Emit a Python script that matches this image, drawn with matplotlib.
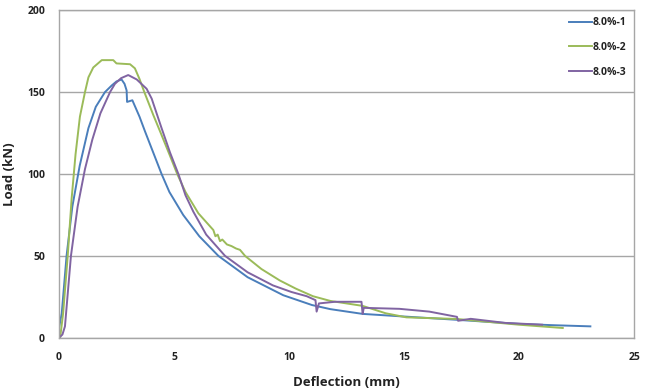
import numpy as np
import matplotlib.pyplot as plt

plt.close('all')

# 8.0%-1 (blue)
x1 = [0, 0.12, 0.33, 0.58, 0.9, 1.28, 1.6, 2.0, 2.29, 2.5, 2.72, 2.85, 2.94, 2.96, 3.19,
      3.5, 3.74, 4.1, 4.46, 4.8, 5.4, 6.1, 6.93, 8.2, 9.75, 11.0, 11.8, 13.2, 15.0, 17.3,
      20.0, 21.5, 23.1]
y1 = [6, 15, 50, 80, 105, 128, 141, 150, 154, 156.5, 157.7, 155, 151, 144, 145,
      135, 126, 113, 100, 89, 75, 62, 50, 37, 26, 20, 17.5, 14.6, 13, 11,
      8.5, 7.7, 7]

# 8.0%-2 (green)
x2 = [0.05, 0.18, 0.38, 0.55, 0.72, 0.91, 1.13, 1.28, 1.49, 1.86, 2.36, 2.5, 3.09, 3.3,
      3.5, 3.71, 4.1, 4.43, 4.8, 5.14, 5.5, 6.06, 6.71, 6.8, 6.9, 7.0, 7.1, 7.3, 7.5,
      7.7, 7.87, 8.09, 8.8, 9.6, 10.3, 11.04, 11.8, 13.2, 14.2, 15.1, 17.3, 20.0, 21.9]
y2 = [0, 15, 50, 85, 112, 135, 150, 159, 165, 169.5, 169.5, 167.5, 167, 164.5,
      158, 150, 136, 124.8, 112, 100, 89, 76, 65.8, 62, 63, 59, 60, 57, 56,
      54.5, 53.7, 50, 42, 35, 30, 25.4, 22.5, 19.5, 15, 12.5, 11.5, 8, 6]

# 8.0%-3 (purple)
x3 = [0, 0.15, 0.26, 0.52, 0.81, 1.13, 1.45, 1.8, 2.22, 2.43, 2.7, 3.01, 3.38, 3.81,
      4.03, 4.46, 4.83, 5.19, 5.5, 5.84, 6.4, 7.22, 8.2, 9.3, 10.1, 10.77, 11.15, 11.2,
      11.3, 12.0, 13.15, 13.2, 13.25, 14.8, 16.1, 17.3, 17.35, 17.9, 19.4, 21.0]
y3 = [0, 2, 7, 50, 80, 103, 121, 137, 150, 155, 158.5, 160.4, 157.7, 152,
      146, 128, 113, 100, 87, 77, 63, 50, 40, 32, 28, 25.4, 23, 16,
      21, 22, 22, 14.6, 18.3, 17.7, 16, 12.8, 10.4, 11.6, 9.1, 8]

labels = ['8.0%-1', '8.0%-2', '8.0%-3']
colors = ['#4A7EBB', '#9BBB59', '#8064A2']

plt.rcParams['font.family'] = ['Open Sans', 'DejaVu Sans']

fig = plt.figure(figsize=(6.51, 3.91), dpi=100)
ax = fig.add_axes([0.0906, 0.136, 0.8834, 0.838])

for xs, ys, lab, c in zip([x1, x2, x3], [y1, y2, y3], labels, colors):
    ax.plot(xs, ys, color=c, lw=1.4, label=lab)

ax.set_xlim(0, 25)
ax.set_ylim(0, 200)
ax.set_xticks([0, 5, 10, 15, 20, 25])
ax.set_yticks([0, 50, 100, 150, 200])
ax.yaxis.grid(True, color='#a6a6a6', lw=1)
ax.set_axisbelow(True)
for s in ax.spines.values():
    s.set_color('#a6a6a6')
    s.set_linewidth(1)
ax.tick_params(length=0, labelsize=7.5, colors='#222222', pad=10)
for t in ax.get_xticklabels() + ax.get_yticklabels():
    t.set_fontweight('bold')

ax.set_ylabel('Load (kN)', fontsize=9.5, fontweight='bold', color='#222222')
ax.yaxis.set_label_coords(-0.075, 0.5)
ax.set_xlabel('Deflection (mm)', fontsize=9.5, fontweight='bold', color='#222222')
ax.xaxis.set_label_coords(0.5, -0.115)

leg = ax.legend(loc='upper right', frameon=False, fontsize=7.5, handlelength=2.2,
                handletextpad=0.1, labelspacing=1.3, borderaxespad=0.3)
for t in leg.get_texts():
    t.set_fontweight('bold')
    t.set_color('#222222')

fig.savefig('out.png', dpi=100)
